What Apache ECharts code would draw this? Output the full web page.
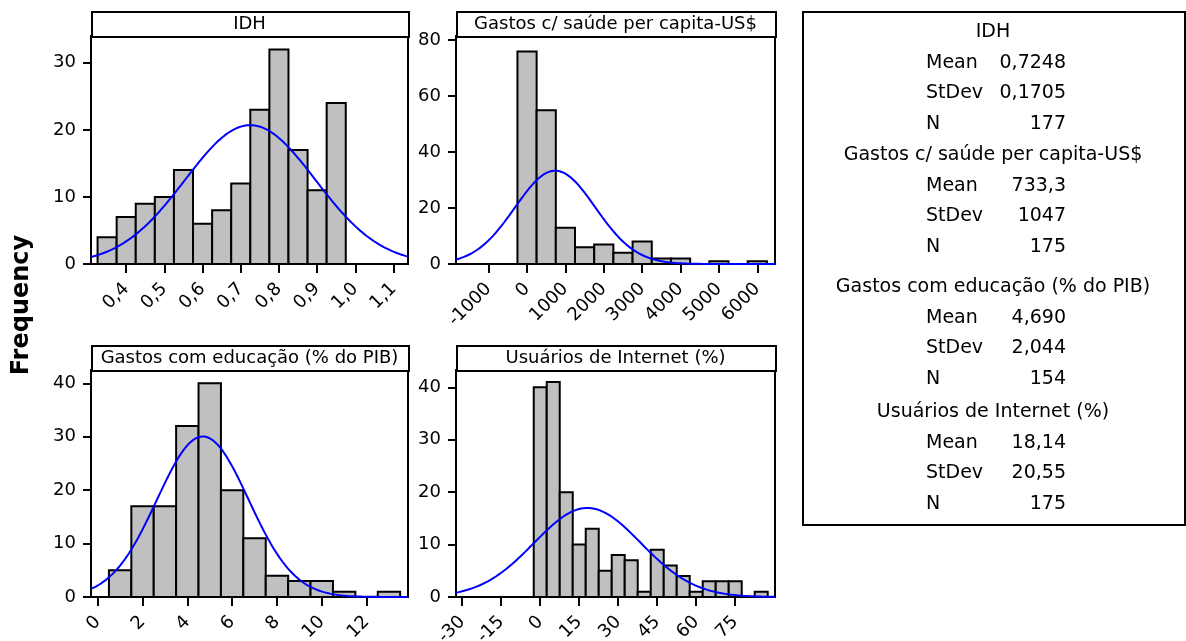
<!DOCTYPE html>
<html>
<head>
<meta charset="utf-8">
<title>Histogramas</title>
<script src="https://cdn.jsdelivr.net/npm/echarts@6/dist/echarts.min.js"></script>
<style>
  html, body { margin: 0; padding: 0; background: #fff; }
  #chart { width: 1186px; height: 641px; }
</style>
</head>
<body>
<div id="chart"></div>
<script>
// Variable names and summary statistics
const statTitles = ['IDH', 'Gastos c/ saúde per capita-US$', 'Gastos com educação (% do PIB)', 'Usuários de Internet (%)'];
const statMeans = [0.7248, 733.3, 4.690, 18.14];
const statStDevs = [0.1705, 1047, 2.044, 20.55];
const statN = [177, 175, 154, 175];

// Histogram bins (centres) and counts
const idhBins = [0.35, 0.40, 0.45, 0.50, 0.55, 0.60, 0.65, 0.70, 0.75, 0.80, 0.85, 0.90, 0.95];
const idhCounts = [4, 7, 9, 10, 14, 6, 8, 12, 23, 32, 17, 11, 24];
const saudeBins = [0, 500, 1000, 1500, 2000, 2500, 3000, 3500, 4000, 4500, 5000, 5500, 6000];
const saudeCounts = [76, 55, 13, 6, 7, 4, 8, 2, 2, 0, 1, 0, 1];
const educBins = [1, 2, 3, 4, 5, 6, 7, 8, 9, 10, 11, 12, 13];
const educCounts = [5, 17, 17, 32, 40, 20, 11, 4, 3, 3, 1, 0, 1];
const internetBins = [0, 5, 10, 15, 20, 25, 30, 35, 40, 45, 50, 55, 60, 65, 70, 75, 80, 85];
const internetCounts = [40, 41, 20, 10, 13, 5, 8, 7, 1, 9, 6, 4, 1, 3, 3, 3, 0, 1];
const binWidths = [0.05, 500, 1, 5];

// Axis ticks and their labels
const idhTicks = [0.4, 0.5, 0.6, 0.7, 0.8, 0.9, 1.0, 1.1];
const idhTickLabels = ['0,4', '0,5', '0,6', '0,7', '0,8', '0,9', '1,0', '1,1'];
const saudeTicks = [-1000, 0, 1000, 2000, 3000, 4000, 5000, 6000];
const saudeTickLabels = ['-1000', '0', '1000', '2000', '3000', '4000', '5000', '6000'];
const educTicks = [0, 2, 4, 6, 8, 10, 12];
const educTickLabels = ['0', '2', '4', '6', '8', '10', '12'];
const internetTicks = [-30, -15, 0, 15, 30, 45, 60, 75];
const internetTickLabels = ['-30', '-15', '0', '15', '30', '45', '60', '75'];
const freqTicks = [[0, 10, 20, 30], [0, 20, 40, 60, 80], [0, 10, 20, 30, 40], [0, 10, 20, 30, 40]];

const axisLabel = 'Frequency';

const FONT = 'DejaVu Sans';

// Panel layout: plot rectangles and axis extents
const panels = [
  { rect: [91, 36, 317, 228], xMin: 0.3078, xMax: 1.138, yMax: 34.0, bins: idhBins, counts: idhCounts, ticks: idhTicks, labels: idhTickLabels },
  { rect: [456, 36, 319, 228], xMin: -1851, xMax: 6461, yMax: 81.5, bins: saudeBins, counts: saudeCounts, ticks: saudeTicks, labels: saudeTickLabels },
  { rect: [91, 370, 317, 227], xMin: -0.30, xMax: 13.85, yMax: 42.5, bins: educBins, counts: educCounts, ticks: educTicks, labels: educTickLabels },
  { rect: [456, 370, 319, 227], xMin: -32.4, xMax: 90.3, yMax: 43.3, bins: internetBins, counts: internetCounts, ticks: internetTicks, labels: internetTickLabels }
];
const HEADER_H = 25;

// Fitted normal curve, scaled to histogram counts (N * bin width * density)
function normalCurve(i, xMin, xMax) {
  const m = statMeans[i], s = statStDevs[i], k = statN[i] * binWidths[i];
  const pts = [];
  const steps = 240;
  for (let j = 0; j <= steps; j++) {
    const x = xMin + (xMax - xMin) * j / steps;
    const z = (x - m) / s;
    pts.push([x, k * Math.exp(-0.5 * z * z) / (s * Math.sqrt(2 * Math.PI))]);
  }
  return pts;
}

function labelFor(ticks, labels) {
  return function (v) {
    let best = 0;
    for (let j = 1; j < ticks.length; j++) {
      if (Math.abs(ticks[j] - v) < Math.abs(ticks[best] - v)) best = j;
    }
    return labels[best];
  };
}

function fmt(v) {
  return String(v.toPrecision(4)).replace('.', ',');
}

const grids = [], xAxes = [], yAxes = [], series = [], graphics = [];

panels.forEach(function (p, i) {
  const [left, top, width, height] = p.rect;
  grids.push({
    left: left, top: top, width: width, height: height,
    containLabel: false, outerBoundsMode: 'none',
    show: true, borderColor: '#000', borderWidth: 2, backgroundColor: '#fff'
  });
  xAxes.push({
    type: 'value', gridIndex: i, min: p.xMin, max: p.xMax,
    splitLine: { show: false },
    axisLine: { show: true, onZero: false, lineStyle: { color: '#000', width: 2 } },
    axisTick: { show: true, customValues: p.ticks, length: 9, lineStyle: { color: '#000', width: 2 } },
    axisLabel: {
      show: true, customValues: p.ticks, rotate: 45, margin: 22,
      formatter: labelFor(p.ticks, p.labels),
      color: '#000', fontFamily: FONT, fontSize: 18
    }
  });
  yAxes.push({
    type: 'value', gridIndex: i, min: 0, max: p.yMax,
    splitLine: { show: false },
    axisLine: { show: true, onZero: false, lineStyle: { color: '#000', width: 2 } },
    axisTick: { show: true, customValues: freqTicks[i], length: 8, lineStyle: { color: '#000', width: 2 } },
    axisLabel: {
      show: true, customValues: freqTicks[i], margin: 15,
      color: '#000', fontFamily: FONT, fontSize: 18
    }
  });
  const bw = binWidths[i];
  series.push({
    type: 'custom', xAxisIndex: i, yAxisIndex: i, clip: true,
    data: p.bins.map(function (b, j) { return [b, p.counts[j]]; }),
    renderItem: function (params, api) {
      const x = api.value(0), y = api.value(1);
      if (!y) return null;
      const a = api.coord([x - bw / 2, y]);
      const b = api.coord([x + bw / 2, 0]);
      return {
        type: 'rect',
        shape: { x: a[0], y: a[1], width: b[0] - a[0], height: b[1] - a[1] },
        style: { fill: '#c0c0c0', stroke: '#000', lineWidth: 2 }
      };
    },
    z: 2
  });
  series.push({
    type: 'line', xAxisIndex: i, yAxisIndex: i, clip: true,
    data: normalCurve(i, p.xMin, p.xMax),
    showSymbol: false, smooth: false, silent: true,
    lineStyle: { color: '#0000ff', width: 2 },
    z: 3
  });
  // panel header strip
  graphics.push({
    type: 'rect', left: left, top: top - HEADER_H,
    shape: { width: width, height: HEADER_H },
    style: { fill: '#fff', stroke: '#000', lineWidth: 2 }, z: 10
  });
  graphics.push({
    type: 'text', x: left + width / 2, y: top - HEADER_H / 2 + 0.5,
    style: { text: statTitles[i], fill: '#000', font: '18px "' + FONT + '"', align: 'center', verticalAlign: 'middle' },
    z: 11
  });
});

// Summary statistics box
const BOX = { x: 802, y: 11, w: 382, h: 513 };
graphics.push({
  type: 'rect', left: BOX.x, top: BOX.y,
  shape: { width: BOX.w, height: BOX.h },
  style: { fill: '#fff', stroke: '#000', lineWidth: 2 }, z: 10
});
const headerYs = [32, 155, 287, 412];
const rowNames = ['Mean', 'StDev', 'N'];
const boxFont = '19px "' + FONT + '"';
statTitles.forEach(function (t, i) {
  graphics.push({
    type: 'text', x: BOX.x + BOX.w / 2, y: headerYs[i],
    style: { text: t, fill: '#000', font: boxFont, align: 'center', verticalAlign: 'middle' }, z: 11
  });
  const vals = [fmt(statMeans[i]), fmt(statStDevs[i]), String(statN[i])];
  rowNames.forEach(function (r, j) {
    const y = headerYs[i] + 31 + j * 30.5;
    graphics.push({
      type: 'text', x: 926, y: y,
      style: { text: r, fill: '#000', font: boxFont, align: 'left', verticalAlign: 'middle' }, z: 11
    });
    graphics.push({
      type: 'text', x: 1066, y: y,
      style: { text: vals[j], fill: '#000', font: boxFont, align: 'right', verticalAlign: 'middle' }, z: 11
    });
  });
});

// Shared y-axis title
graphics.push({
  type: 'text', x: 22, y: 305, rotation: Math.PI / 2,
  style: { text: axisLabel, fill: '#000', font: 'bold 24px "' + FONT + '"', align: 'center', verticalAlign: 'middle' },
  z: 11
});

const chart = echarts.init(document.getElementById('chart'), null, { renderer: 'canvas' });
chart.setOption({
  backgroundColor: '#fff',
  animation: false,
  grid: grids,
  xAxis: xAxes,
  yAxis: yAxes,
  series: series,
  graphic: graphics
});
</script>
</body>
</html>
